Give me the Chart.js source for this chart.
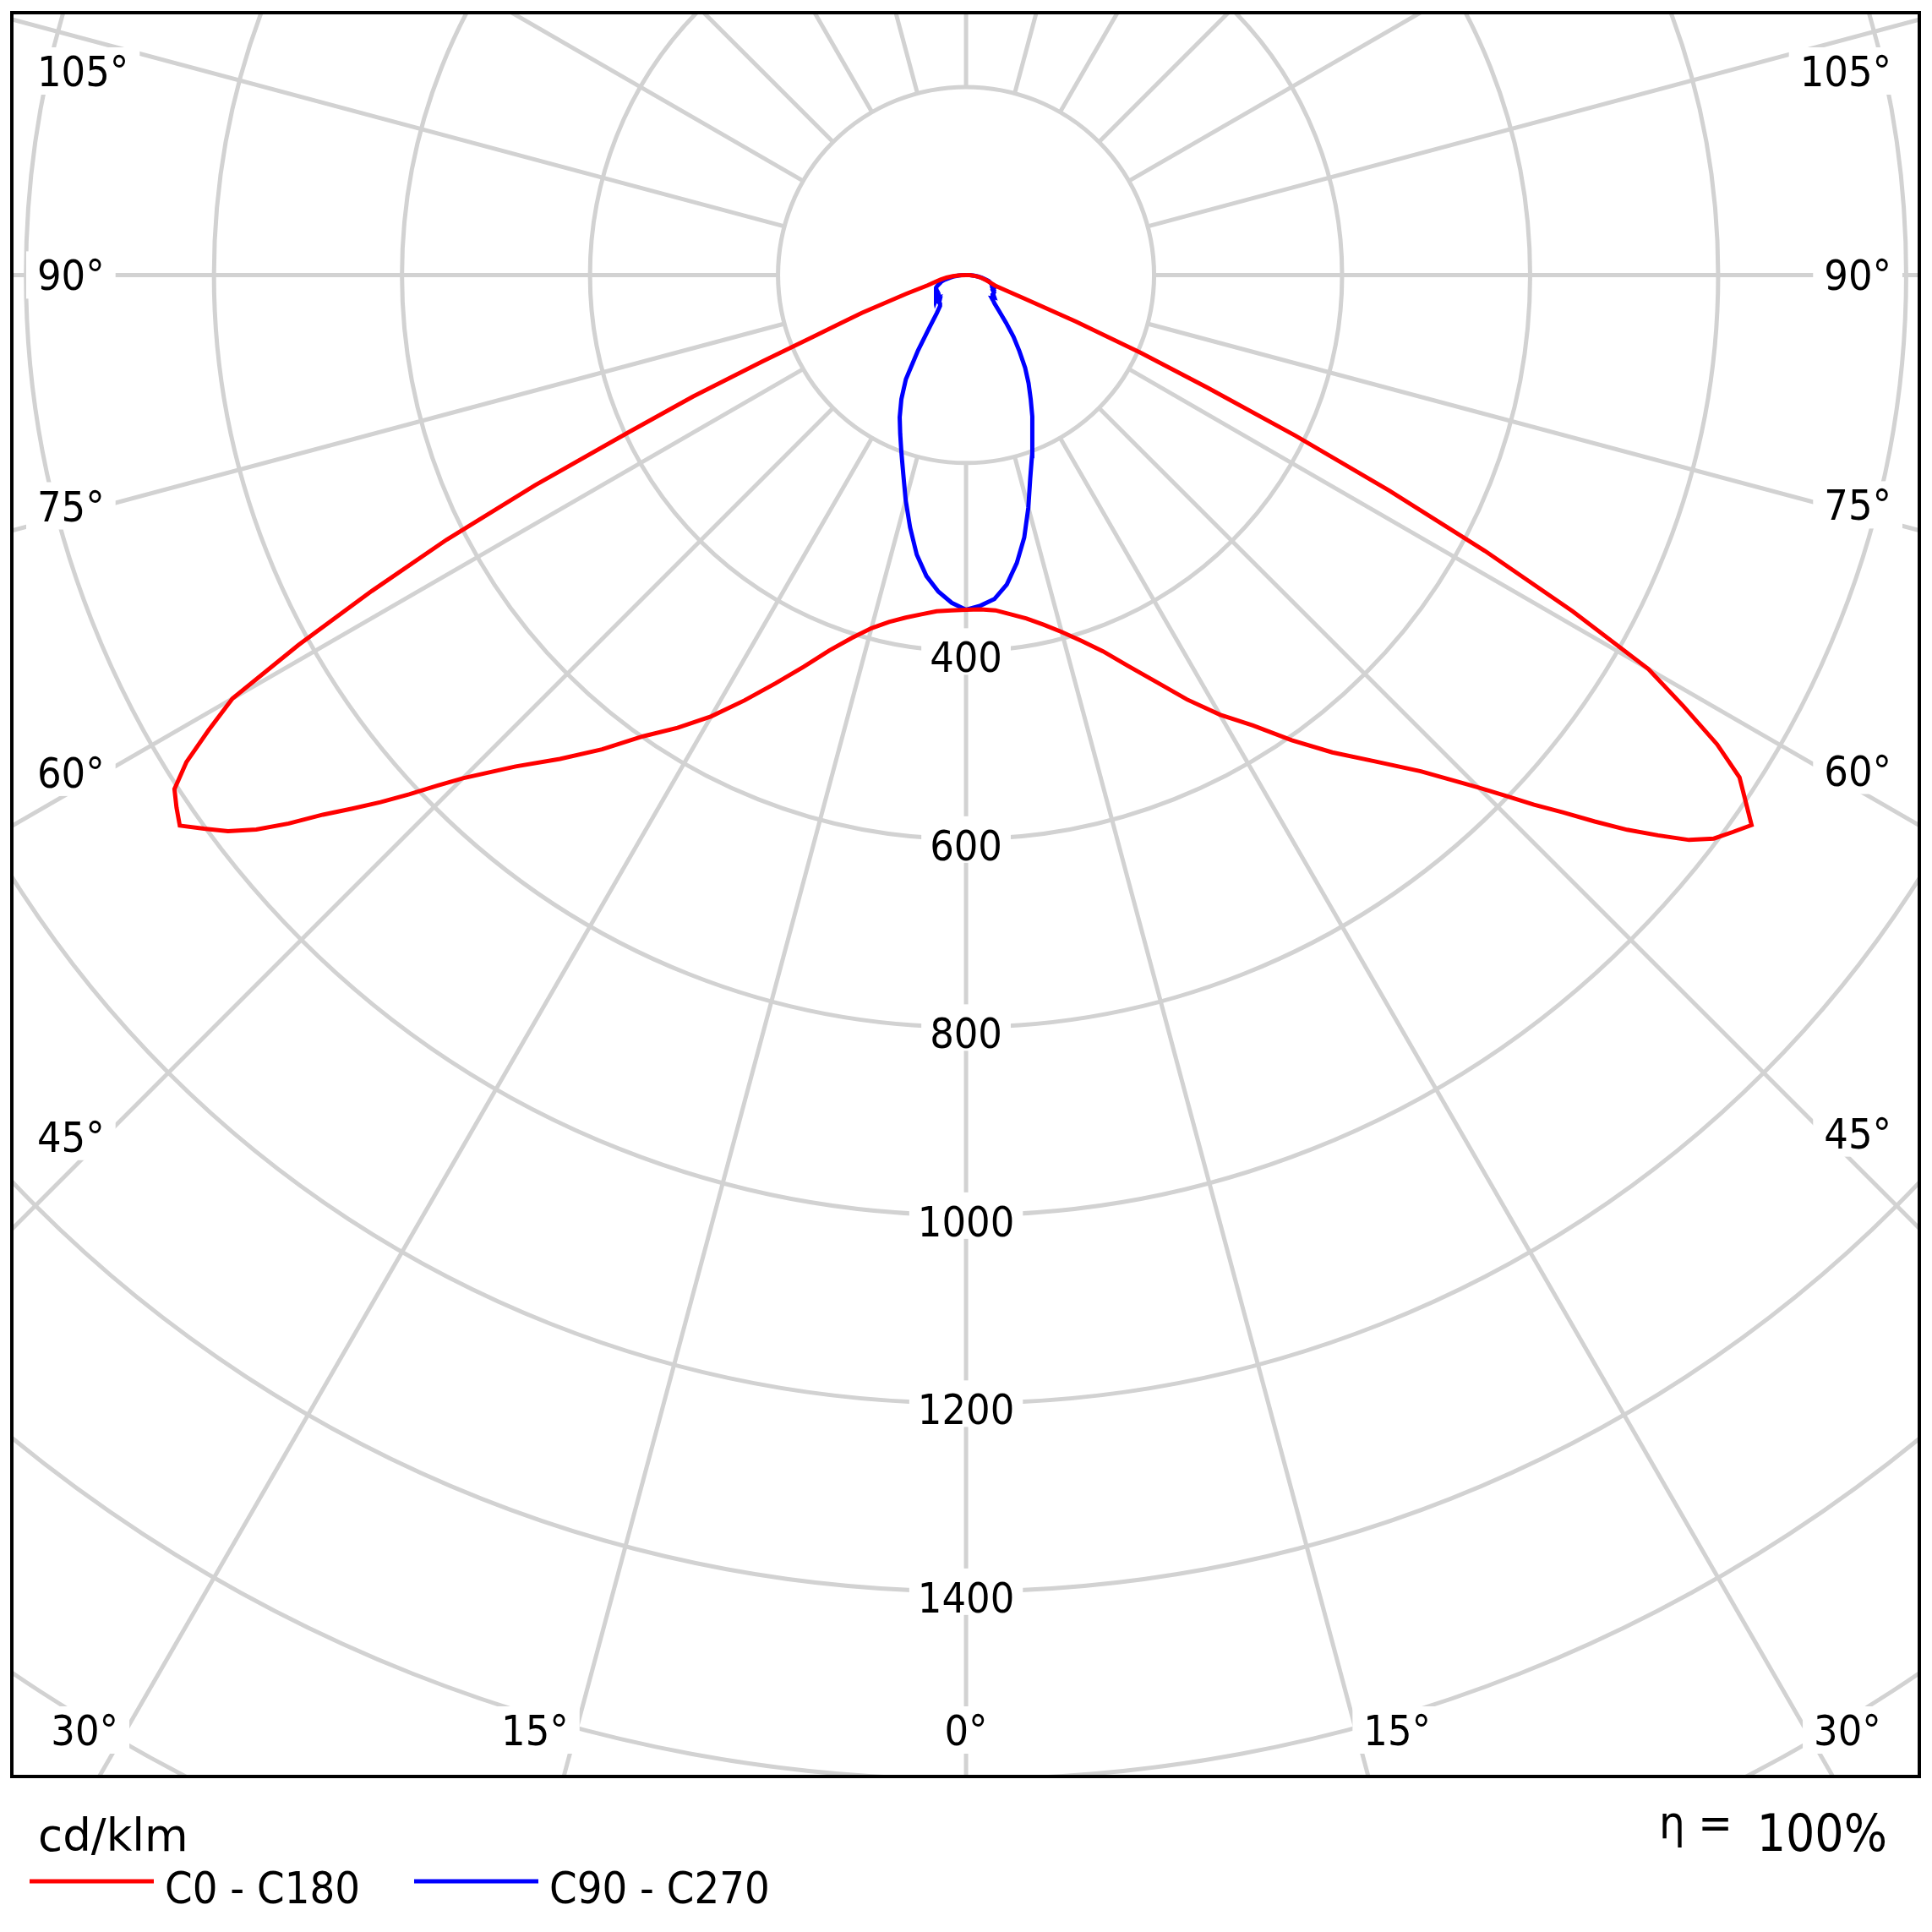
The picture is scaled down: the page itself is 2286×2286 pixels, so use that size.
<!DOCTYPE html>
<html>
<head>
<meta charset="utf-8">
<script src="https://cdn.jsdelivr.net/npm/chart.js@4.4.1/dist/chart.umd.min.js"></script>
<style>
  html, body { margin: 0; padding: 0; background: #ffffff; }
  canvas { display: block; }
</style>
</head>
<body>
<canvas id="ldc" width="2286" height="2286" style="width:2286px;height:2286px"></canvas>
<script>
// ---------- DATA ----------
// vertical angles (gamma, degrees from nadir)
const gammaDeg = [0, 2.5, 5, 7.5, 10, 12.5, 15, 17.5, 20, 22.5, 25, 27.5, 30, 32.5, 35, 37.5, 40, 42.5, 45,
                  46, 47, 48, 49, 50, 51, 52, 53, 54, 55, 56, 57, 58, 59, 60, 61, 62, 63, 64, 65, 66, 67, 68, 69, 70,
                  72.5, 75, 77.5, 80, 82.5, 85, 87.5, 90];
// luminous intensities in cd/klm, one array per half plane
const intensityC0   = [356, 356, 358, 364, 371, 381, 393, 408, 426, 450, 477, 509, 540, 568, 604, 640, 675, 716, 771,
                       797, 826, 854, 886, 918, 947, 976, 996, 1008, 1020, 1000, 981, 942, 890, 838, 738, 625, 505, 390, 283, 204, 127, 68, 44, 33,
                       27, 23, 19, 16, 12, 8, 4, 0];
const intensityC180 = [356, 357, 359, 364, 370, 378, 389, 405, 425, 451, 479, 510, 542, 571, 599, 636, 672, 709, 757,
                       782, 810, 838, 865, 893, 927, 958, 983, 1002, 1021, 1013, 1004, 978, 940, 901, 812, 716, 620, 510, 397, 318, 235, 175, 142, 118,
                       67, 42, 33, 27, 21, 14, 7, 0];
const intensityC90  = [356, 352, 346, 332, 311, 286, 256, 227, 205, 185, 166, 149, 133, 117, 99, 83, 66, 52, 43,
                       41, 39, 37, 38, 37, 36, 38, 37, 36, 36, 35, 35, 35, 34, 34, 34, 33, 33, 33, 32, 32, 31, 31, 30, 29,
                       27, 25, 21, 17, 13, 9, 4, 0];
const intensityC270 = [356, 349, 338, 323, 302, 275, 248, 222, 201, 183, 167, 149, 128, 95, 67, 51, 43, 41, 41,
                       39, 38, 40, 40, 39, 37, 38, 39, 38, 37, 36, 35, 35, 36, 36, 36, 35, 35, 35, 35, 35, 35, 34, 33, 32,
                       29, 27, 23, 18, 14, 9, 5, 0];

const seriesNames  = ['C0 - C180', 'C90 - C270'];
const seriesColors = ['#ff0000', '#0000ff'];

// grid / ticks
const ringValues      = [200, 400, 600, 800, 1000, 1200, 1400, 1600, 1800, 2000];
const ringLabelValues = [400, 600, 800, 1000, 1200, 1400];
const spokeAngles     = [0, 15, 30, 45, 60, 75, 90, 105, 120, 135, 150, 165, 180];
const unitLabel       = 'cd/klm';
const efficiencyText  = ['\u03B7 =', '100%'];
const xRange = [-1015, 1014];
const yRange = [-1597, 279];

// ---------- helpers ----------
const rad = d => d * Math.PI / 180;
function curve(leftVals, rightVals) {
  const pts = [];
  for (let i = gammaDeg.length - 1; i >= 0; i--) {
    const g = rad(gammaDeg[i]);
    pts.push({ x: -leftVals[i] * Math.sin(g), y: -leftVals[i] * Math.cos(g) });
  }
  for (let i = 0; i < gammaDeg.length; i++) {
    const g = rad(gammaDeg[i]);
    pts.push({ x: rightVals[i] * Math.sin(g), y: -rightVals[i] * Math.cos(g) });
  }
  return pts;
}

const LABEL_FONT = '50px "DejaVu Sans Condensed", "DejaVu Sans", sans-serif';
const CAP = 36;
const GRID_COLOR = '#d2d2d2';

function boxText(ctx, text, cxT, cyT, w) {
  ctx.fillStyle = '#ffffff';
  ctx.fillRect(cxT - w / 2 - 13, cyT - 28, w + 26, 56);
  ctx.fillStyle = '#000000';
  ctx.textAlign = 'center';
  ctx.textBaseline = 'alphabetic';
  ctx.fillText(text, cxT, cyT + CAP / 2);
}

const polarGrid = {
  id: 'polarGrid',
  beforeDatasetsDraw(chart) {
    const { ctx, chartArea: a, scales: { x, y } } = chart;
    const cx = x.getPixelForValue(0), cy = y.getPixelForValue(0);
    const P = (r, gDeg, side) => ({
      px: x.getPixelForValue(side * r * Math.sin(rad(gDeg))),
      py: y.getPixelForValue(-r * Math.cos(rad(gDeg)))
    });
    ctx.save();
    ctx.fillStyle = '#ffffff';
    ctx.fillRect(a.left, a.top, a.right - a.left, a.bottom - a.top);
    ctx.beginPath();
    ctx.rect(a.left, a.top, a.right - a.left, a.bottom - a.top);
    ctx.clip();
    ctx.strokeStyle = GRID_COLOR;
    ctx.lineWidth = 5;
    // rings
    ringValues.forEach(v => {
      const r = x.getPixelForValue(v) - cx;
      ctx.beginPath();
      ctx.arc(cx, cy, r, 0, Math.PI * 2);
      ctx.stroke();
    });
    // spokes from the inner ring outwards
    spokeAngles.forEach(g => {
      [-1, 1].forEach(side => {
        if ((g === 0 || g === 180) && side === 1) return;
        const p0 = P(ringValues[0], g, side), p1 = P(4000, g, side);
        ctx.beginPath();
        ctx.moveTo(p0.px, p0.py);
        ctx.lineTo(p1.px, p1.py);
        ctx.stroke();
      });
    });
    // ring labels on the 0 deg axis
    ctx.font = LABEL_FONT;
    ringLabelValues.forEach(v => {
      const t = String(v);
      const w = ctx.measureText(t).width;
      const py = y.getPixelForValue(-v);
      ctx.fillStyle = '#ffffff';
      ctx.fillRect(cx - w / 2 - 10, py - 27, w + 20, 55);
      ctx.fillStyle = '#000000';
      ctx.textAlign = 'center';
      ctx.textBaseline = 'alphabetic';
      ctx.fillText(t, cx, py + 25);
    });
    // angle labels
    const bottomY = a.bottom - 55;
    spokeAngles.forEach(g => {
      const t = g + '\u00B0';
      const w = ctx.measureText(t).width;
      const s = Math.sin(rad(g)), c = Math.cos(rad(g));
      if (g === 0) { boxText(ctx, t, cx, bottomY, w); return; }
      [-1, 1].forEach(side => {
        if (g === 180) return;
        const edgeX = side < 0 ? a.left : a.right;
        const tEdge = Math.abs(edgeX - cx) / s;
        const yEdge = cy + tEdge * c;
        if (yEdge < a.top) return;
        if (yEdge <= a.bottom) {
          // label at the side of the frame
          const inner = side < 0 ? a.left + 30 + w : a.right - 33 - w;
          const tt = Math.abs(inner - cx) / s;
          let yc = cy + tt * c;
          yc = Math.max(yc, a.top + 69);
          const xc = side < 0 ? a.left + 30 + w / 2 : a.right - 33 - w / 2;
          boxText(ctx, t, xc, yc, w);
        } else {
          // label at the bottom of the frame
          const tt = (bottomY - cy) / c;
          const xr = cx + side * tt * s;
          const xc = xr + side * (9 + w / 2);
          boxText(ctx, t, xc, bottomY, w);
        }
      });
    });
    ctx.restore();
  },
  afterDatasetsDraw(chart) {
    const { ctx, chartArea: a } = chart;
    ctx.save();
    ctx.strokeStyle = '#000000';
    ctx.lineWidth = 4;
    ctx.strokeRect(a.left, a.top, a.right - a.left, a.bottom - a.top);
    // unit
    ctx.fillStyle = '#000000';
    ctx.textBaseline = 'alphabetic';
    ctx.textAlign = 'left';
    ctx.font = '53px "DejaVu Sans", sans-serif';
    ctx.fillText(unitLabel, 45, 2190);
    // legend
    ctx.font = '52px "DejaVu Sans Condensed", "DejaVu Sans", sans-serif';
    const legendX = [35, 490];
    chart.data.datasets.forEach((ds, i) => {
      const lx = legendX[i];
      ctx.strokeStyle = ds.borderColor;
      ctx.lineWidth = 5;
      ctx.beginPath();
      ctx.moveTo(lx, 2226);
      ctx.lineTo(lx + 147, 2226);
      ctx.stroke();
      ctx.fillStyle = '#000000';
      ctx.fillText(ds.label, lx + 160, 2252);
    });
    // efficiency
    ctx.textAlign = 'right';
    ctx.font = '60px "DejaVu Sans Condensed", "DejaVu Sans", sans-serif';
    ctx.fillText(efficiencyText[1], 2233, 2190);
    ctx.font = '54px "DejaVu Sans Condensed", "DejaVu Sans", sans-serif';
    ctx.fillText(efficiencyText[0], 2050, 2175);
    ctx.restore();
  }
};

new Chart(document.getElementById('ldc'), {
  type: 'scatter',
  data: {
    datasets: [
      { label: seriesNames[0], data: curve(intensityC180, intensityC0), borderColor: seriesColors[0],
        showLine: true, pointRadius: 0, borderWidth: 5, tension: 0, fill: false },
      { label: seriesNames[1], data: curve(intensityC270, intensityC90), borderColor: seriesColors[1],
        showLine: true, pointRadius: 0, borderWidth: 5, tension: 0, fill: false }
    ]
  },
  options: {
    responsive: false,
    animation: false,
    events: [],
    layout: { padding: { left: 14, top: 15, right: 15, bottom: 184 } },
    scales: {
      x: { type: 'linear', display: false, min: xRange[0], max: xRange[1] },
      y: { type: 'linear', display: false, min: yRange[0], max: yRange[1] }
    },
    plugins: { legend: { display: false }, tooltip: { enabled: false } }
  },
  plugins: [polarGrid]
});
</script>
</body>
</html>
